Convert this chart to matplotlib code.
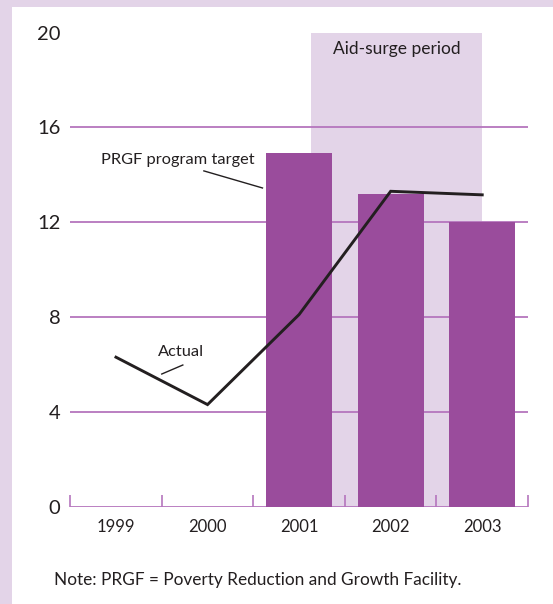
import numpy as np
import matplotlib
matplotlib.use("Agg")
import matplotlib.pyplot as plt
from matplotlib.patches import Rectangle

# Data
years = ["1999", "2000", "2001", "2002", "2003"]
target = [np.nan, np.nan, 14.9, 13.2, 12.0]      # PRGF program target (bars)
actual = [6.3, 4.3, 8.1, 13.3, 13.15]            # Actual (line)
y_ticks = [0, 4, 8, 12, 16, 20]
surge_start, surge_end = 2.13, 4.0               # aid-surge shading, in category units

LAVENDER = "#e3d4e8"
PURPLE = "#9a4c9c"
GRID = "#b575bd"
INK = "#231f20"

plt.rcParams["font.family"] = ["Lato", "DejaVu Sans"]

fig = plt.figure(figsize=(5.53, 6.04), dpi=100)
fig.patch.set_facecolor(LAVENDER)
# white panel
fig.add_artist(Rectangle((12 / 553, 0), 1 - 12 / 553, 1 - 7 / 604,
                         transform=fig.transFigure, facecolor="white",
                         edgecolor="none", zorder=0))

ax = fig.add_axes([70.2 / 553, 97.5 / 604, (528 - 70.2) / 553, (506.5 - 32.5) / 604])
ax.set_facecolor("none")

x = np.arange(len(years))

# aid-surge shading
ax.axvspan(surge_start, surge_end, ymin=0, ymax=1, facecolor=LAVENDER,
           edgecolor="none", zorder=0)
ax.text((surge_start + surge_end) / 2, 19.3, "Aid-surge period", ha="center",
        va="center", fontsize=12.5, color=INK, zorder=5)

# horizontal gridlines
for v in y_ticks:
    ax.axhline(v, color=GRID, lw=1.3, zorder=1)

ax.bar(x, target, width=0.72, color=PURPLE, zorder=2)
ax.plot(x, actual, color=INK, lw=2.1, zorder=3, solid_joinstyle="miter")

ax.set_xlim(-0.5, len(years) - 0.5)
ax.set_ylim(0, 20)

for s in ax.spines.values():
    s.set_visible(False)

ax.set_yticks(y_ticks)
ax.set_yticklabels([str(v) for v in y_ticks], fontsize=14.5, color=INK)
ax.tick_params(axis="y", length=0, pad=7)

ax.set_xticks(x)
ax.set_xticklabels(years, fontsize=12, color=INK)
ax.tick_params(axis="x", which="major", length=0, pad=9)
ax.set_xticks(np.arange(-0.5, len(years)), minor=True)
ax.tick_params(axis="x", which="minor", direction="in", length=8.4,
               width=1.2, color=GRID)

# annotations
ax.text(0.67, 14.6, "PRGF program target", ha="center", va="center",
        fontsize=11.8, color=INK, zorder=5)
ax.plot([0.96, 1.60], [14.16, 13.44], color=INK, lw=1.0, zorder=5)
ax.text(0.71, 6.5, "Actual", ha="center", va="center", fontsize=11.8,
        color=INK, zorder=5)
ax.plot([0.73, 0.50], [5.97, 5.59], color=INK, lw=1.0, zorder=5)

fig.text(54 / 553, 1 - 580 / 604,
         "Note: PRGF = Poverty Reduction and Growth Facility.",
         ha="left", va="center", fontsize=12.4, color=INK)

fig.savefig("out.png", dpi=100, facecolor=fig.get_facecolor())
